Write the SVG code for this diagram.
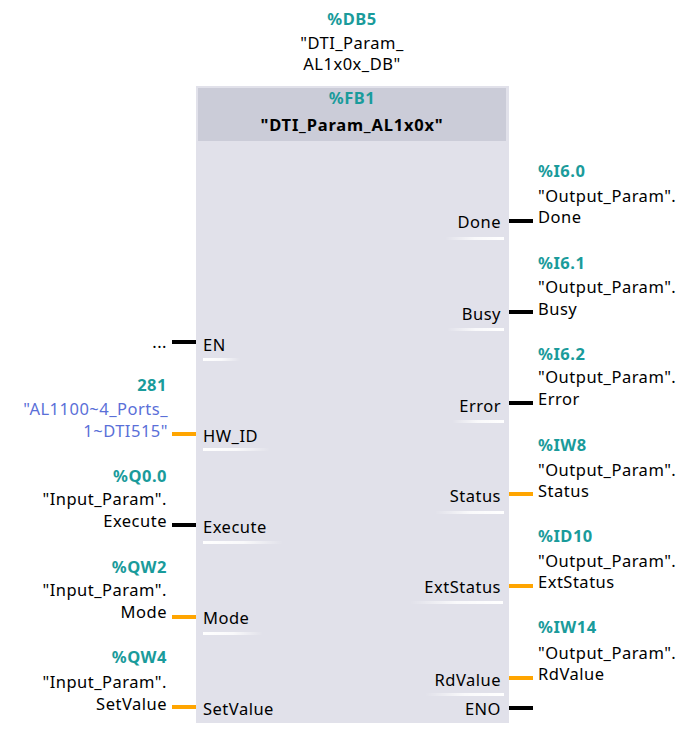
<svg xmlns="http://www.w3.org/2000/svg" width="693" height="734" viewBox="0 0 693 734">
<style>
text{font-family:"Noto Sans","Open Sans","Liberation Sans",sans-serif;font-size:16.5px;letter-spacing:0.5px;fill:#000}
.t{fill:#1a9b9b;font-weight:bold}
.b{font-weight:bold;letter-spacing:0.8px}
.hw{fill:#5a6fd8}
.m{text-anchor:middle}
.e{text-anchor:end}
.k{stroke:#000;stroke-width:4}
.o{stroke:#ffa500;stroke-width:4}
.ul{fill:url(#gl)}
.ur{fill:url(#gr)}
</style>
<defs>
<linearGradient id="gl" x1="0" y1="0" x2="1" y2="0"><stop offset="0" stop-color="#fff"/><stop offset="0.5" stop-color="#fff" stop-opacity="0.8"/><stop offset="1" stop-color="#fff" stop-opacity="0"/></linearGradient>
<linearGradient id="gr" x1="1" y1="0" x2="0" y2="0"><stop offset="0" stop-color="#fff"/><stop offset="0.5" stop-color="#fff" stop-opacity="0.8"/><stop offset="1" stop-color="#fff" stop-opacity="0"/></linearGradient>
</defs>
<rect width="693" height="734" fill="#fff"/>
<g id="instance-db">
<text class="t m" x="352" y="25">%DB5</text>
<text class="m" x="352" y="49">"DTI_Param_</text>
<text class="m" x="352" y="70">AL1x0x_DB"</text>
</g>
<g id="fb-block">
<rect x="196" y="86" width="313" height="637" fill="#e1e1ea"/>
<rect x="198" y="88" width="308" height="53" fill="#cbccd8"/>
<text class="t m" x="352" y="104">%FB1</text>
<text class="b m" x="352" y="131">"DTI_Param_AL1x0x"</text>
</g>
<g id="connectors">
<line class="k" x1="172" y1="342" x2="196" y2="342"/>
<line class="o" x1="172" y1="434" x2="196" y2="434"/>
<line class="k" x1="172" y1="525" x2="196" y2="525"/>
<line class="o" x1="172" y1="617" x2="196" y2="617"/>
<line class="o" x1="172" y1="707" x2="196" y2="707"/>
<line class="k" x1="509" y1="221" x2="533" y2="221"/>
<line class="k" x1="509" y1="312" x2="533" y2="312"/>
<line class="k" x1="509" y1="403" x2="533" y2="403"/>
<line class="o" x1="509" y1="494" x2="533" y2="494"/>
<line class="o" x1="509" y1="586" x2="533" y2="586"/>
<line class="o" x1="509" y1="678" x2="533" y2="678"/>
<line class="k" x1="509" y1="708" x2="533" y2="708"/>
</g>
<g id="pin-EN">
<text class="e" x="167" y="348">...</text>
<text x="203" y="351">EN</text>
<rect class="ul" x="203" y="358" width="37" height="3"/>
</g>
<g id="pin-HW_ID">
<text class="t e" x="167" y="391">281</text>
<text class="hw e" x="168" y="415">"AL1100~4_Ports_</text>
<text class="hw e" x="168" y="437">1~DTI515"</text>
<text x="203" y="442">HW_ID</text>
<rect class="ul" x="203" y="448" width="67" height="3"/>
</g>
<g id="pin-Execute">
<text class="t e" x="167" y="482">%Q0.0</text>
<text class="e" x="167" y="505">"Input_Param".</text>
<text class="e" x="167" y="527">Execute</text>
<text x="203" y="533">Execute</text>
<rect class="ul" x="203" y="541" width="80" height="3"/>
</g>
<g id="pin-Mode">
<text class="t e" x="167" y="573">%QW2</text>
<text class="e" x="167" y="596">"Input_Param".</text>
<text class="e" x="167" y="618">Mode</text>
<text x="203" y="624">Mode</text>
<rect class="ul" x="203" y="632" width="60" height="3"/>
</g>
<g id="pin-SetValue">
<text class="t e" x="167" y="663">%QW4</text>
<text class="e" x="167" y="688">"Input_Param".</text>
<text class="e" x="167" y="710">SetValue</text>
<text x="203" y="715">SetValue</text>
</g>
<g id="pin-Done">
<text class="t" x="538" y="177">%I6.0</text>
<text x="538" y="202">"Output_Param".</text>
<text x="538" y="223">Done</text>
<text class="e" x="501" y="228">Done</text>
<rect class="ur" x="445" y="237" width="59" height="3"/>
</g>
<g id="pin-Busy">
<text class="t" x="538" y="269">%I6.1</text>
<text x="538" y="293">"Output_Param".</text>
<text x="538" y="315">Busy</text>
<text class="e" x="501" y="320">Busy</text>
<rect class="ur" x="447" y="328" width="57" height="3"/>
</g>
<g id="pin-Error">
<text class="t" x="538" y="360">%I6.2</text>
<text x="538" y="383">"Output_Param".</text>
<text x="538" y="405">Error</text>
<text class="e" x="501" y="412">Error</text>
<rect class="ur" x="452" y="420" width="52" height="3"/>
</g>
<g id="pin-Status">
<text class="t" x="538" y="451">%IW8</text>
<text x="538" y="476">"Output_Param".</text>
<text x="538" y="497">Status</text>
<text class="e" x="501" y="502">Status</text>
<rect class="ur" x="435" y="511" width="69" height="3"/>
</g>
<g id="pin-ExtStatus">
<text class="t" x="538" y="542">%ID10</text>
<text x="538" y="567">"Output_Param".</text>
<text x="538" y="588">ExtStatus</text>
<text class="e" x="501" y="593">ExtStatus</text>
<rect class="ur" x="410" y="601" width="93" height="3"/>
</g>
<g id="pin-RdValue">
<text class="t" x="538" y="633">%IW14</text>
<text x="538" y="659">"Output_Param".</text>
<text x="538" y="680">RdValue</text>
<text class="e" x="501" y="686">RdValue</text>
<rect class="ur" x="425" y="693" width="79" height="3"/>
</g>
<g id="pin-ENO">
<text class="e" x="501" y="715">ENO</text>
</g>
</svg>
